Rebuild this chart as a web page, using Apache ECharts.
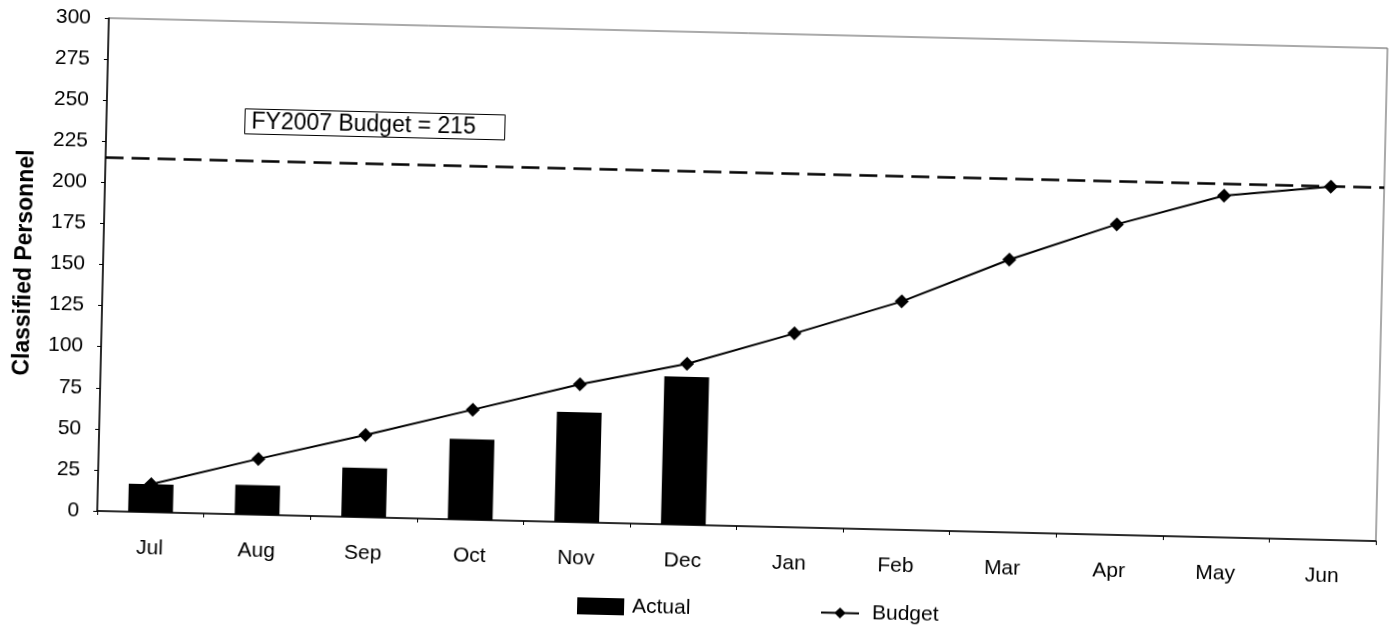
<!DOCTYPE html>
<html>
<head>
<meta charset="utf-8">
<script src="https://cdn.jsdelivr.net/npm/echarts@6/dist/echarts.min.js"></script>
<style>
  html, body { margin: 0; padding: 0; background: #fff; overflow: hidden; }
  #chart { width: 1392px; height: 631px; transform: rotate(1.35deg); transform-origin: 696px 315.5px; }
</style>
</head>
<body>
<div id="chart"></div>
<script>
// ---- data ----
const months = ['Jul', 'Aug', 'Sep', 'Oct', 'Nov', 'Dec', 'Jan', 'Feb', 'Mar', 'Apr', 'May', 'Jun'];
const actual = [17, 18, 30, 49, 67, 90, null, null, null, null, null, null];
const budget = [17, 34, 50, 67, 84, 98, 118, 139, 166, 189, 208, 215];
const budgetTarget = 215;
const targetLabel = 'FY2007 Budget = 215';
const yMin = 0, yMax = 300, yStep = 25;
const yTitle = 'Classified Personnel';

const FONT = '"Liberation Sans", Arial, sans-serif';
const chart = echarts.init(document.getElementById('chart'), null, { renderer: 'canvas' });

chart.setOption({
  backgroundColor: '#fff',
  animation: false,
  textStyle: { fontFamily: FONT, color: '#000' },
  title: {
    text: targetLabel,
    left: 240,
    top: 119,
    padding: [2, 29, 1, 7],
    borderColor: '#000',
    borderWidth: 1,
    textStyle: { fontFamily: FONT, fontSize: 23, fontWeight: 'normal', color: '#000' }
  },
  legend: [
    {
      data: [{ name: 'Actual', icon: 'rect' }],
      left: 579, top: 593,
      itemWidth: 47, itemHeight: 17,
      itemGap: 0,
      textStyle: { fontFamily: FONT, fontSize: 21, color: '#000', padding: [0, 0, 0, 3] }
    },
    {
      data: ['Budget'],
      left: 822, top: 594,
      itemWidth: 38, itemHeight: 14,
      textStyle: { fontFamily: FONT, fontSize: 21, color: '#000', padding: [0, 0, 0, 8] }
    }
  ],
  grid: {
    left: 102, right: 11, top: 32, bottom: 106,
    show: true, borderColor: '#555', borderWidth: 1,
    containLabel: false, outerBoundsMode: 'none'
  },
  xAxis: {
    type: 'category',
    data: months,
    boundaryGap: true,
    axisLine: { lineStyle: { color: '#000', width: 1.5 } },
    axisTick: { show: true, length: 4, lineStyle: { color: '#000' } },
    axisLabel: { margin: 26, fontSize: 21, color: '#000', fontFamily: FONT }
  },
  yAxis: {
    type: 'value',
    min: yMin, max: yMax, interval: yStep,
    name: yTitle,
    nameLocation: 'middle',
    nameRotate: 90,
    nameGap: 67,
    nameTextStyle: { fontFamily: FONT, fontSize: 23, fontWeight: 'bold', color: '#000' },
    axisLine: { show: true, lineStyle: { color: '#000', width: 1.5 } },
    axisTick: { show: true, length: 4, lineStyle: { color: '#000' } },
    splitLine: { show: false },
    axisLabel: { margin: 18, fontSize: 21, color: '#000', fontFamily: FONT }
  },
  series: [
    {
      name: 'Actual',
      type: 'bar',
      data: actual,
      barWidth: '42%',
      itemStyle: { color: '#000' },
      z: 2
    },
    {
      name: 'Budget',
      type: 'line',
      data: budget,
      symbol: 'diamond',
      symbolSize: 14,
      lineStyle: { color: '#000', width: 2 },
      itemStyle: { color: '#000' },
      z: 3,
      markLine: {
        silent: true,
        symbol: 'none',
        label: { show: false },
        lineStyle: { color: '#000', width: 2.5, type: [18, 8] },
        data: [{ yAxis: budgetTarget }]
      }
    }
  ]
});
</script>
</body>
</html>
